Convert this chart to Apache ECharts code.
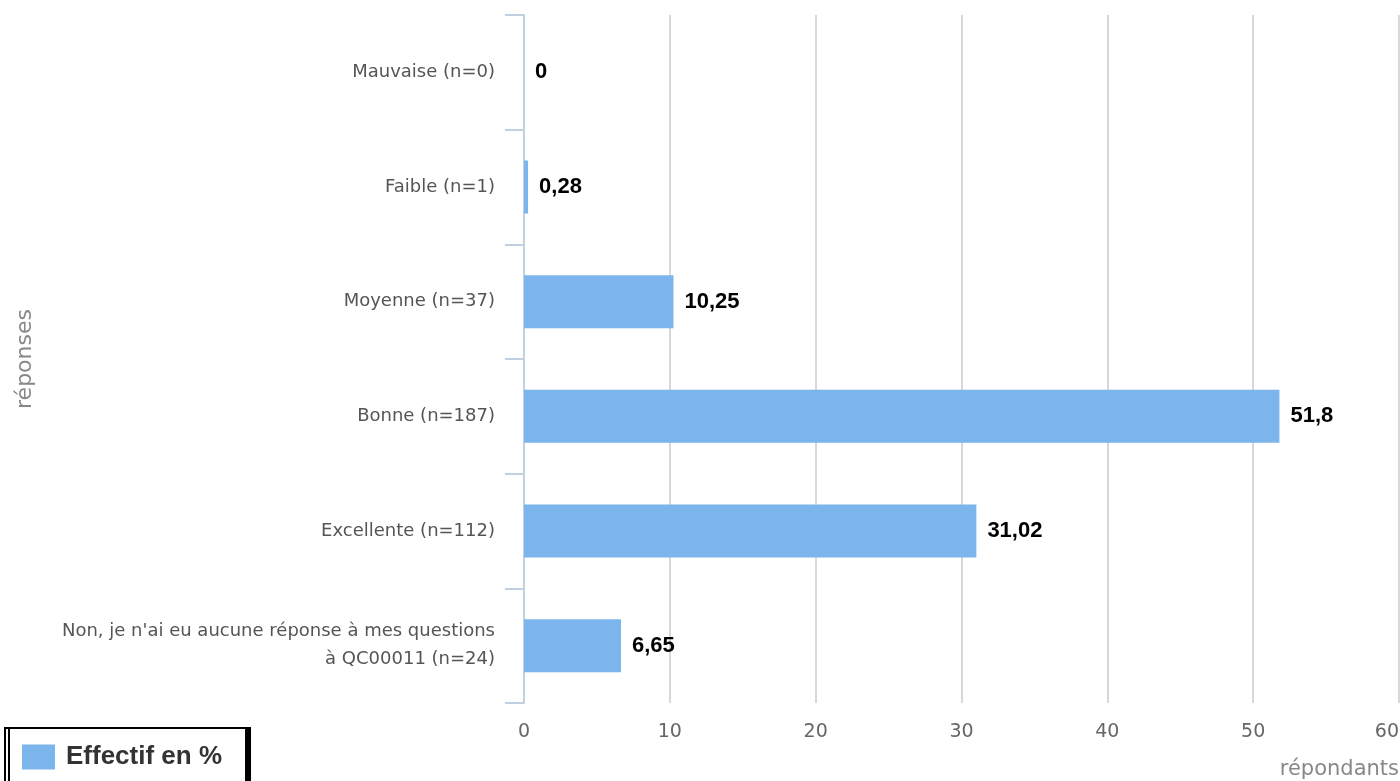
<!DOCTYPE html>
<html><head><meta charset="utf-8">
<script src="https://cdn.jsdelivr.net/npm/echarts@6/dist/echarts.min.js"></script>
<style>html,body{margin:0;padding:0;background:#fff}#c{width:1400px;height:781px}</style>
</head><body><div id="c"></div>
<script>
const categories = ["Mauvaise (n=0)", "Faible (n=1)", "Moyenne (n=37)", "Bonne (n=187)", "Excellente (n=112)", "Non, je n'ai eu aucune réponse à mes questions\nà QC00011 (n=24)"];
const values = [0, 0.28, 10.25, 51.8, 31.02, 6.65];
const xTicks = [0, 10, 20, 30, 40, 50, 60];
const seriesName = "Effectif en %";

const chart = echarts.init(document.getElementById('c'));
chart.setOption({
  animation: false,
  grid: {left: 524, right: 1, top: 15, bottom: 78, containLabel: false, outerBoundsMode: 'none'},
  legend: {
    left: 5, top: 728, orient: 'horizontal',
    data: [seriesName],
    itemWidth: 33, itemHeight: 25, itemGap: 10,
    padding: [16, 24, 16, 17],
    borderColor: '#000', borderWidth: 2, borderRadius: 0,
    backgroundColor: '#fff',
    shadowColor: '#000', shadowOffsetX: 4, shadowOffsetY: 0, shadowBlur: 0,
    icon: 'rect',
    textStyle: {fontSize: 26, fontWeight: 'bold', color: '#333', padding: [0, 0, 0, 6], fontFamily: 'Liberation Sans, Arial, sans-serif'}
  },
  xAxis: {
    type: 'value', min: 0, max: 60, interval: 10,
    axisLine: {show: false}, axisTick: {show: false},
    splitLine: {lineStyle: {color: '#d8d8d8', width: 2}},
    axisLabel: {fontSize: 19, color: '#666', margin: 20, alignMaxLabel: 'right', fontFamily: 'DejaVu Sans, sans-serif',
      formatter: v => xTicks.includes(v) ? String(v) : ''},
    name: 'répondants', nameLocation: 'end', nameGap: 0,
    nameTextStyle: {fontSize: 21, color: '#888', align: 'right', verticalAlign: 'top', padding: [56, 0, 0, 0], fontFamily: 'DejaVu Sans, sans-serif'}
  },
  yAxis: {
    type: 'category', data: categories, inverse: true,
    axisLine: {show: true, lineStyle: {color: '#c0d0e0', width: 2}},
    axisTick: {show: true, alignWithLabel: false, length: 19, lineStyle: {color: '#c0d0e0', width: 2}},
    axisLabel: {fontSize: 18, color: '#555', margin: 29, lineHeight: 28, padding: [6, 0, 0, 0], fontFamily: 'DejaVu Sans, sans-serif'},
    name: 'réponses', nameLocation: 'middle', nameGap: 488, nameRotate: 90,
    nameTextStyle: {fontSize: 22, color: '#888', fontFamily: 'DejaVu Sans, sans-serif'}
  },
  series: [{
    name: seriesName, type: 'bar', data: values,
    barWidth: 53,
    itemStyle: {color: '#7cb5ec'},
    label: {show: true, position: 'right', distance: 11, fontSize: 22, fontWeight: 'bold', color: '#000',
      padding: [6, 0, 0, 0],
      fontFamily: 'Liberation Sans Narrow, Arial Narrow, Liberation Sans, sans-serif',
      formatter: p => String(p.value).replace('.', ',')}
  }]
});
</script></body></html>
